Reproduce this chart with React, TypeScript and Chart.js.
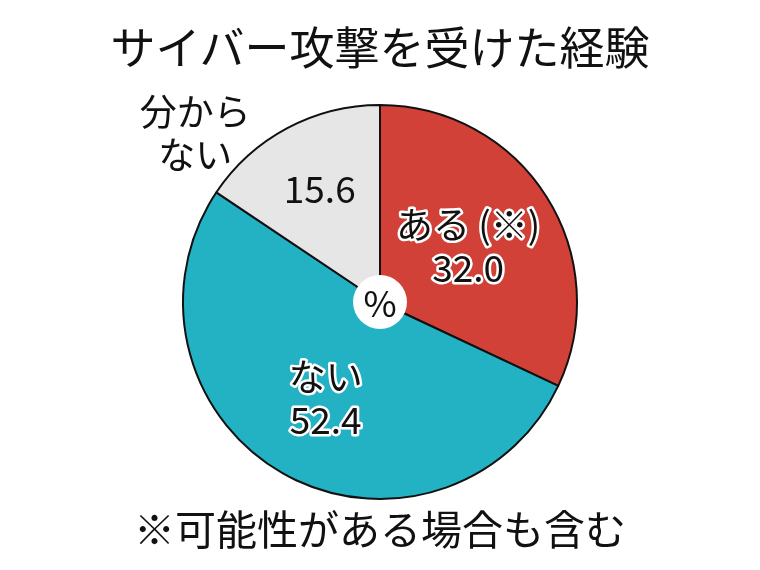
import { useEffect, useRef } from 'react';
import Chart from 'chart.js/auto';

const categories = ['ある (※)', 'ない', '分からない'];
const categoryLines = [['ある (※)'], ['ない'], ['分から', 'ない']];
const values = [32.0, 52.4, 15.6];

const title = 'サイバー攻撃を受けた経験';
const footnote = '※可能性がある場合も含む';
const unitLabel = '%';

const FONT = '"Noto Sans CJK JP", "Noto Sans", sans-serif';
const sliceColors = ['#d14137', '#23b2c4', '#e6e6e6'];

// where each label sits: fraction of radius along the slice's mid angle
const labelPlacement = [
  { valueR: 0.53, nameR: 0.53, nameShift: 0, inside: true, halo: true },
  { valueR: 0.56, nameR: 0.56, nameShift: 0, inside: true, halo: true },
  { valueR: 0.65, nameR: 1.27, nameShift: -19.5, inside: false, halo: false },
];

const drawText = (ctx: CanvasRenderingContext2D, text: string, x: number, y: number, halo: boolean) => {
  if (halo) {
    ctx.lineWidth = 5;
    ctx.strokeStyle = '#ffffff';
    ctx.lineJoin = 'round';
    ctx.strokeText(text, x, y);
  }
  ctx.fillStyle = '#111111';
  ctx.fillText(text, x, y);
};

const pieLabels = {
  id: 'pieLabels',
  afterDatasetsDraw(chart: any) {
    const ctx: CanvasRenderingContext2D = chart.ctx;
    const arcs = chart.getDatasetMeta(0).data;
    const lineH = 43;
    ctx.save();
    ctx.font = `400 37px ${FONT}`;
    ctx.textAlign = 'center';
    ctx.textBaseline = 'middle';
    arcs.forEach((arc: any, i: number) => {
      const { x, y, startAngle, endAngle, outerRadius } = arc.getProps(['x', 'y', 'startAngle', 'endAngle', 'outerRadius'], true);
      const mid = (startAngle + endAngle) / 2;
      const p = labelPlacement[i];
      const valueText = values[i].toFixed(1);
      if (p.inside) {
        const lines = [...categoryLines[i], valueText];
        const cx = x + Math.cos(mid) * outerRadius * p.valueR;
        const cy = y + Math.sin(mid) * outerRadius * p.valueR;
        lines.forEach((t, k) => {
          drawText(ctx, t, cx, cy + (k - (lines.length - 1) / 2) * lineH, p.halo);
        });
      } else {
        const vx = x + Math.cos(mid) * outerRadius * p.valueR;
        const vy = y + Math.sin(mid) * outerRadius * p.valueR;
        drawText(ctx, valueText, vx, vy, p.halo);
        const a = mid + (p.nameShift * Math.PI) / 180;
        const nx = x + Math.cos(a) * outerRadius * p.nameR;
        const ny = y + Math.sin(a) * outerRadius * p.nameR;
        const lines = categoryLines[i];
        lines.forEach((t, k) => {
          drawText(ctx, t, nx, ny + (k - (lines.length - 1) / 2) * lineH, p.halo);
        });
      }
    });

    // centre badge
    const first = arcs[0];
    if (first) {
      ctx.beginPath();
      ctx.arc(first.x, first.y, 27, 0, Math.PI * 2);
      ctx.fillStyle = '#ffffff';
      ctx.fill();
      ctx.font = `400 36px ${FONT}`;
      ctx.fillStyle = '#111111';
      ctx.fillText(unitLabel, first.x, first.y + 1);
    }
    ctx.restore();
  },
};

const App = () => {
  const chartRef = useRef<HTMLCanvasElement>(null);

  useEffect(() => {
    const ctx = chartRef.current?.getContext('2d');
    if (!ctx) return;

    const chartInstance = new Chart(ctx, {
      type: 'pie',
      data: {
        labels: categories,
        datasets: [
          {
            data: values,
            backgroundColor: sliceColors,
            borderColor: '#111111',
            borderWidth: 2,
          },
        ],
      },
      options: {
        responsive: false,
        animation: false,
        layout: { padding: { top: 104, bottom: 70, left: 0, right: 0 } },
        plugins: {
          legend: { display: false },
          tooltip: { enabled: false },
        },
      },
      plugins: [pieLabels],
    });

    return () => chartInstance.destroy();
  }, []);

  return (
    <div style={{ position: 'absolute', left: 0, top: 0, width: 760, height: 570, background: '#ffffff', fontFamily: FONT }}>
      <canvas ref={chartRef} width={760} height={570} style={{ position: 'absolute', left: 0, top: 0 }} />
      {/* Title */}
      <div
        style={{
          position: 'absolute', left: 0, top: 45, width: 760, textAlign: 'center',
          fontSize: 45, fontWeight: 400, lineHeight: '45px', transform: 'translateY(-50%)', color: '#111',
        }}
      >
        {title}
      </div>
      {/* Footnote */}
      <div
        style={{
          position: 'absolute', left: 0, top: 527, width: 760, textAlign: 'center',
          fontSize: 41, fontWeight: 400, lineHeight: '41px', transform: 'translateY(-50%)', color: '#111',
        }}
      >
        {footnote}
      </div>
    </div>
  );
};

export default App;
